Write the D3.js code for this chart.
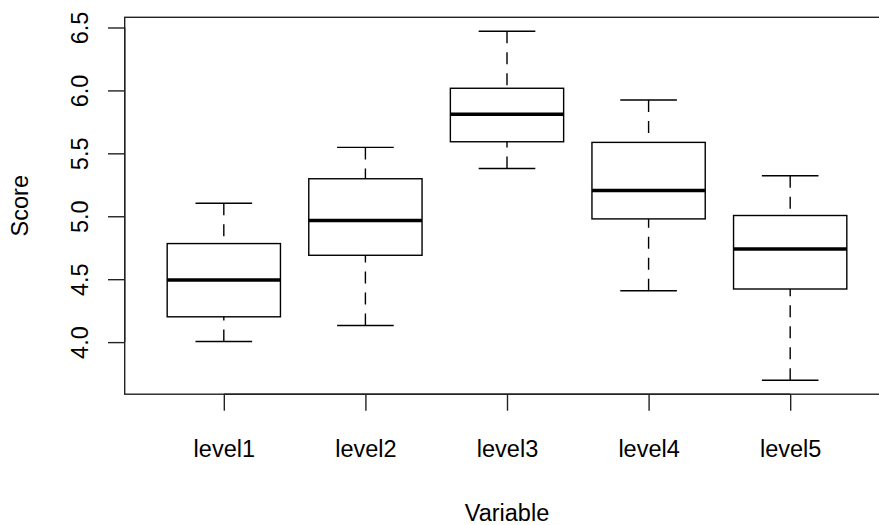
<!DOCTYPE html>
<html>
<head>
<meta charset="utf-8">
<script src="https://cdn.jsdelivr.net/npm/d3@7"></script>
<style>
  body { margin: 0; background: #fff; }
  text { font-family: "Liberation Sans", Arial, sans-serif; fill: #000; }
</style>
</head>
<body>
<svg id="chart" width="879" height="525"></svg>
<script>
// ----------------------------
// Data
// ----------------------------
var categories = ["level1", "level2", "level3", "level4", "level5"];
var lowerWhisker = [4.005, 4.132, 5.38, 4.408, 3.697];
var lowerHinge   = [4.201, 4.69, 5.592, 4.979, 4.422];
var medians      = [4.494, 4.966, 5.81, 5.205, 4.74];
var upperHinge   = [4.783, 5.298, 6.017, 5.587, 5.006];
var upperWhisker = [5.103, 5.547, 6.47, 5.924, 5.322];
var yTicks = [4.0, 4.5, 5.0, 5.5, 6.0, 6.5];

var svg = d3.select("#chart");
var fontSize = "23.5px";

// Plot region (right edge runs past the window, as in the reference)
var plotLeft = 124.7, plotRight = 889.3, plotTop = 17.3, plotBottom = 394.2;

// R style axis extension of 4%
var yMin = d3.min(lowerWhisker), yMax = d3.max(upperWhisker);
var yPad = (yMax - yMin) * 0.04;
var y = d3.scaleLinear().domain([yMin - yPad, yMax + yPad]).range([plotBottom, plotTop]);

var n = categories.length;
var xPad = n * 0.04;
var x = d3.scaleLinear().domain([0.5 - xPad, n + 0.5 + xPad]).range([plotLeft, plotRight]);

var boxes = categories.map(function (c, i) {
    return {
        name: c, pos: i + 1,
        lo: lowerWhisker[i], q1: lowerHinge[i], med: medians[i],
        q3: upperHinge[i], hi: upperWhisker[i]
    };
});

var unit = x(1) - x(0);

// ----------------------------
// Boxes
// ----------------------------
var g = svg.selectAll(".box").data(boxes).enter().append("g").attr("class", "box");

// whiskers are drawn from the cap towards the box
g.append("line")
    .attr("x1", d => x(d.pos)).attr("x2", d => x(d.pos))
    .attr("y1", d => y(d.lo)).attr("y2", d => y(d.q1))
    .attr("stroke", "#000").attr("stroke-width", 1.4).attr("stroke-dasharray", "12,9");
g.append("line")
    .attr("x1", d => x(d.pos)).attr("x2", d => x(d.pos))
    .attr("y1", d => y(d.hi)).attr("y2", d => y(d.q3))
    .attr("stroke", "#000").attr("stroke-width", 1.4).attr("stroke-dasharray", "12,9");

// caps
g.append("line")
    .attr("x1", d => x(d.pos - 0.2)).attr("x2", d => x(d.pos + 0.2))
    .attr("y1", d => y(d.lo)).attr("y2", d => y(d.lo))
    .attr("stroke", "#000").attr("stroke-width", 1.4);
g.append("line")
    .attr("x1", d => x(d.pos - 0.2)).attr("x2", d => x(d.pos + 0.2))
    .attr("y1", d => y(d.hi)).attr("y2", d => y(d.hi))
    .attr("stroke", "#000").attr("stroke-width", 1.4);

// box
g.append("rect")
    .attr("x", d => x(d.pos - 0.4))
    .attr("y", d => y(d.q3))
    .attr("width", 0.8 * unit)
    .attr("height", d => y(d.q1) - y(d.q3))
    .attr("fill", "none").attr("stroke", "#000").attr("stroke-width", 1.4);

// median
g.append("line")
    .attr("x1", d => x(d.pos - 0.4)).attr("x2", d => x(d.pos + 0.4))
    .attr("y1", d => y(d.med)).attr("y2", d => y(d.med))
    .attr("stroke", "#000").attr("stroke-width", 3.5);

// ----------------------------
// Frame and axes
// ----------------------------
svg.append("rect")
    .attr("x", plotLeft).attr("y", plotTop)
    .attr("width", plotRight - plotLeft).attr("height", plotBottom - plotTop)
    .attr("fill", "none").attr("stroke", "#222").attr("stroke-width", 1.4);

var yAxis = svg.append("g")
    .attr("transform", "translate(" + plotLeft + ",0)")
    .call(d3.axisLeft(y).tickValues(yTicks).tickSize(16.7).tickFormat(d3.format(".1f")).tickPadding(0));
yAxis.select(".domain")
    .attr("d", "M0," + y(yTicks[0]) + "V" + y(yTicks[yTicks.length - 1]))
    .attr("stroke", "#222").attr("stroke-width", 1.4);
yAxis.selectAll(".tick line").attr("stroke", "#222").attr("stroke-width", 1.4);
yAxis.selectAll(".tick text")
    .attr("x", 0).attr("dy", null)
    .attr("transform", "translate(-45,0) rotate(-90)")
    .attr("text-anchor", "middle")
    .attr("dominant-baseline", "central")
    .style("font-size", fontSize)
    .style("font-family", "'Liberation Sans', Arial, sans-serif");

var xAxis = svg.append("g")
    .attr("transform", "translate(0," + plotBottom + ")")
    .call(d3.axisBottom(x).tickValues(d3.range(1, n + 1)).tickSize(16.5)
        .tickFormat(function (d) { return categories[d - 1]; }).tickPadding(0));
xAxis.select(".domain")
    .attr("d", "M" + x(1) + ",0H" + x(n))
    .attr("stroke", "#222").attr("stroke-width", 1.4);
xAxis.selectAll(".tick line").attr("stroke", "#222").attr("stroke-width", 1.4);
xAxis.selectAll(".tick text")
    .attr("y", 55).attr("dy", null)
    .attr("dominant-baseline", "central")
    .style("font-size", fontSize)
    .style("font-family", "'Liberation Sans', Arial, sans-serif");

// axis titles
svg.append("text")
    .attr("x", x(3))
    .attr("y", 513)
    .attr("text-anchor", "middle")
    .attr("dominant-baseline", "central")
    .style("font-size", fontSize)
    .text("Variable");

svg.append("text")
    .attr("transform", "translate(20," + (plotTop + plotBottom) / 2 + ") rotate(-90)")
    .attr("text-anchor", "middle")
    .attr("dominant-baseline", "central")
    .style("font-size", fontSize)
    .text("Score");
</script>
</body>
</html>
